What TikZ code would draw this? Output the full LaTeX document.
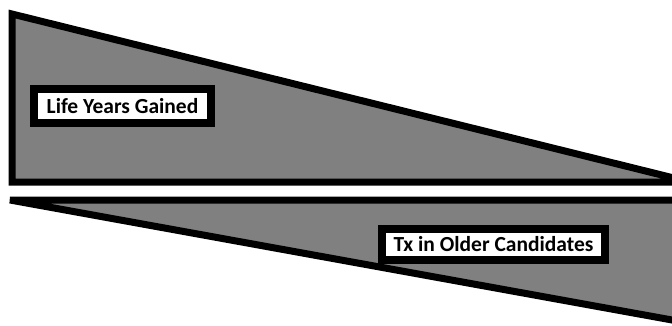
\documentclass[tikz,border=0pt]{standalone}
\usepackage{fontspec}
\setmainfont{Carlito}
\definecolor{wedgegray}{HTML}{808080}
\tikzset{
  wedge/.style={draw=black, fill=wedgegray, line width=7pt, line join=miter},
  labelbox/.style={draw=black, fill=white, line width=8pt, inner sep=0pt,
    font=\fontsize{21.5}{24}\selectfont\bfseries}
}
\begin{document}
\begin{tikzpicture}[x=1pt, y=-1pt]
  \useasboundingbox (0,0) rectangle (672,325);
  \fill[white] (0,0) rectangle (672,325);
  \begin{scope}
    \clip (0,0) rectangle (672,325);
    % upper wedge: narrowing to the right
    \draw[wedge] (12,14) -- (12,182) -- (690,182) -- cycle;
    % lower wedge: widening to the right
    \draw[wedge] (10,200) -- (730,200) -- (730,330.5) -- cycle;
  \end{scope}
  \node[labelbox, minimum width=177pt, minimum height=34pt] (gain) at (122.5,106) {Life Years Gained};
  \node[labelbox, minimum width=223pt, minimum height=31pt] (older) at (493.5,244.5) {Tx in Older Candidates};
\end{tikzpicture}
\end{document}
